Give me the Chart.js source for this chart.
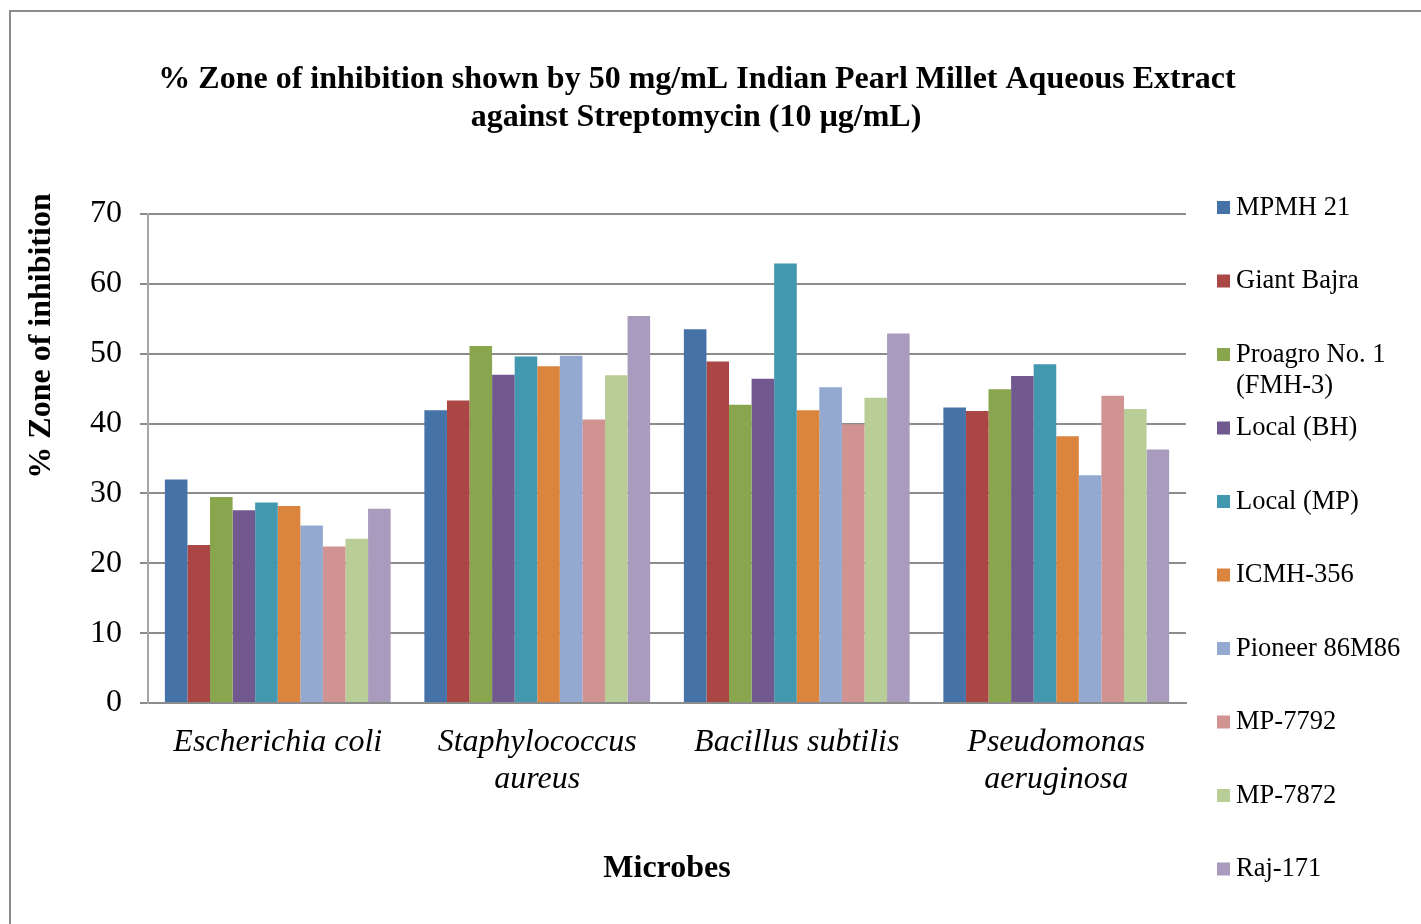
<!DOCTYPE html>
<html>
<head>
<meta charset="utf-8">
<script src="https://cdn.jsdelivr.net/npm/chart.js@4"></script>
<style>
  body { margin: 0; background: #fff; }
  #wrap { position: absolute; left: 0; top: 0; width: 1421px; height: 924px; }
</style>
</head>
<body>
<div id="wrap"><canvas id="chart-zone"></canvas></div>
<script>
var microbes = [
  "Escherichia coli",
  ["Staphylococcus", "aureus"],
  "Bacillus subtilis",
  ["Pseudomonas", "aeruginosa"]
];

var varieties = [
  "MPMH 21", "Giant Bajra", "Proagro No. 1\n(FMH-3)", "Local (BH)", "Local (MP)",
  "ICMH-356", "Pioneer 86M86", "MP-7792", "MP-7872", "Raj-171"
];

var colors = [
  "#4572A7", "#AA4643", "#89A54E", "#71588F", "#4198AF",
  "#DB843D", "#93A9CF", "#D19392", "#B9CD96", "#A99BBD"
];

// one array per variety: E. coli, S. aureus, B. subtilis, P. aeruginosa
var mpmh21     = [32.0, 41.9, 53.5, 42.3];
var giantBajra = [22.6, 43.3, 48.9, 41.8];
var proagro    = [29.5, 51.1, 42.7, 44.9];
var localBH    = [27.6, 47.0, 46.4, 46.8];
var localMP    = [28.7, 49.6, 62.9, 48.5];
var icmh356    = [28.2, 48.2, 41.9, 38.2];
var pioneer    = [25.4, 49.7, 45.2, 32.6];
var mp7792     = [22.4, 40.6, 39.9, 44.0];
var mp7872     = [23.5, 46.9, 43.7, 42.1];
var raj171     = [27.8, 55.4, 52.9, 36.3];

var seriesValues = [mpmh21, giantBajra, proagro, localBH, localMP,
  icmh356, pioneer, mp7792, mp7872, raj171];

var yTicks = [0, 10, 20, 30, 40, 50, 60, 70];

var serif = "'Liberation Serif', 'Times New Roman', serif";

var zoneData = {
  labels: microbes,
  datasets: varieties.map(function (name, i) {
    return {
      label: name,
      data: seriesValues[i],
      backgroundColor: colors[i],
      borderWidth: 0,
    };
  }),
};

// title, rotated y title, x title, legend and frame
var decorations = {
  id: "decorations",
  beforeDraw: function (chart) {
    var ctx = chart.ctx;
    ctx.save();
    ctx.fillStyle = "#fff";
    ctx.fillRect(0, 0, chart.width, chart.height);
    ctx.strokeStyle = "#8c8c8c";
    ctx.lineWidth = 2;
    ctx.strokeRect(10, 11, chart.width + 20, chart.height + 20);
    ctx.restore();
  },
  afterDraw: function (chart) {
    var ctx = chart.ctx;
    ctx.save();
    ctx.fillStyle = "#000";
    ctx.textAlign = "center";
    ctx.textBaseline = "middle";
    ctx.font = "bold 32px " + serif;
    ctx.fillText("% Zone of inhibition shown by 50 mg/mL Indian Pearl Millet Aqueous Extract", 697, 80);
    ctx.fillText("against Streptomycin (10 \u00b5g/mL)", 696, 118);
    ctx.fillText("Microbes", 667, 869);

    ctx.save();
    ctx.translate(42, 336);
    ctx.rotate(-Math.PI / 2);
    ctx.fillText("% Zone of inhibition", 0, 0);
    ctx.restore();

    ctx.textAlign = "left";
    ctx.font = "26.5px " + serif;
    var legendTop = 208, legendStep = 73.5;
    chart.data.datasets.forEach(function (ds, i) {
      var y = legendTop + i * legendStep;
      ctx.fillStyle = ds.backgroundColor;
      ctx.fillRect(1217, y - 7, 13, 13);
      ctx.fillStyle = "#000";
      ds.label.split("\n").forEach(function (line, j) {
        ctx.fillText(line, 1236, y + j * 31);
      });
    });
    ctx.restore();
  },
};

new Chart("chart-zone", {
  type: "bar",
  data: zoneData,
  plugins: [decorations],
  options: {
    responsive: true,
    maintainAspectRatio: false,
    animation: false,
    layout: {
      padding: { left: 60, top: 214, right: 235, bottom: 30 },
    },
    datasets: {
      bar: { categoryPercentage: 0.87, barPercentage: 1.0 },
    },
    plugins: {
      legend: { display: false },
      title: { display: false },
      tooltip: { enabled: false },
    },
    scales: {
      x: {
        afterFit: function (scale) { scale.height = 924 - 30 - 703; },
        grid: { display: false, drawTicks: false },
        border: { display: true, color: "#8c8c8c", width: 2 },
        ticks: {
          color: "#000",
          padding: 21,
          maxRotation: 0,
          autoSkip: false,
          font: { family: serif, size: 32, style: "italic", lineHeight: 1.16 },
        },
      },
      y: {
        min: yTicks[0],
        max: yTicks[yTicks.length - 1],
        afterFit: function (scale) { scale.width = 148 - 60; },
        afterBuildTicks: function (scale) {
          scale.ticks = yTicks.map(function (v) { return { value: v }; });
        },
        grid: {
          display: true,
          color: "#8c8c8c",
          lineWidth: 2,
          tickLength: 8,
          tickColor: "#8c8c8c",
        },
        border: { display: true, color: "#a6a6a6", width: 2 },
        ticks: {
          color: "#000",
          padding: 18,
          font: { family: serif, size: 32 },
        },
      },
    },
  },
});
</script>
</body>
</html>
